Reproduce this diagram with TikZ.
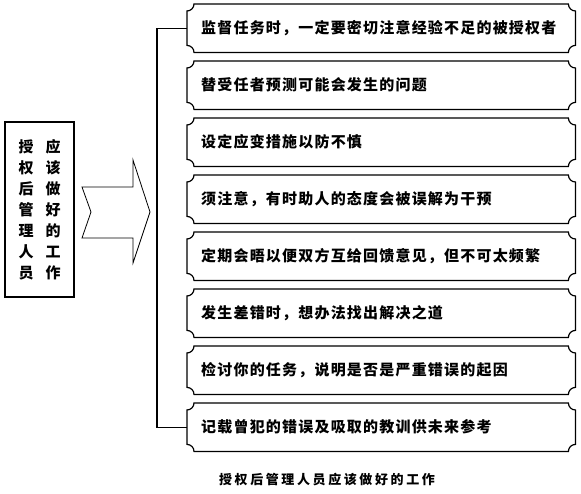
\documentclass[tikz,border=0pt]{standalone}
\usepackage{fontspec}
\newfontfamily\cjk{Noto Sans CJK SC}
\usetikzlibrary{backgrounds}
\tikzset{
  box/.style={anchor=north west, minimum width=388pt, minimum height=48pt,
    inner xsep=14pt, text width=360pt, align=left,
    font=\cjk\bfseries\fontsize{15}{18}\selectfont\addfontfeature{LetterSpace=8}},
}
\newcommand\plq[1]{%
  \begin{pgfonlayer}{background}
  \fill[black, shift={(1.6pt,-2.2pt)}]
    ([xshift=7pt]#1.north west) -- ([xshift=-7pt]#1.north east)
    arc[start angle=180, end angle=270, radius=7pt]
    -- ([yshift=7pt]#1.south east)
    arc[start angle=90, end angle=180, radius=7pt]
    -- ([xshift=7pt]#1.south west)
    arc[start angle=0, end angle=90, radius=7pt]
    -- ([yshift=-7pt]#1.north west)
    arc[start angle=270, end angle=360, radius=7pt] -- cycle;
  \filldraw[fill=white, line width=1.2pt]
    ([xshift=7pt]#1.north west) -- ([xshift=-7pt]#1.north east)
    arc[start angle=180, end angle=270, radius=7pt]
    -- ([yshift=7pt]#1.south east)
    arc[start angle=90, end angle=180, radius=7pt]
    -- ([xshift=7pt]#1.south west)
    arc[start angle=0, end angle=90, radius=7pt]
    -- ([yshift=-7pt]#1.north west)
    arc[start angle=270, end angle=360, radius=7pt] -- cycle;
  \end{pgfonlayer}}
\begin{document}
\begin{tikzpicture}[x=1pt, y=1pt]
\useasboundingbox (0,0) rectangle (581,-493);
% left box
\node[draw, line width=1.3pt, minimum width=69pt, minimum height=175pt,
      align=center, inner sep=0pt,
      font=\cjk\bfseries\fontsize{15}{21}\selectfont] (lb) at (39.5,-209.5)
  {授\hspace{12pt}应\\权\hspace{12pt}该\\后\hspace{12pt}做\\管\hspace{12pt}好\\理\hspace{12pt}的\\人\hspace{12pt}工\\员\hspace{12pt}作};
% big arrow
\draw[line width=0.8pt] (82,-187) -- (133,-187) -- (133,-160) -- (150,-212)
  -- (133,-263) -- (133,-238) -- (82,-238) -- (91,-212) -- cycle;
% boxes
\node[box] (b1) at (187,-4) {监督任务时，一定要密切注意经验不足的被授权者};
\node[box] (b2) at (187,-61) {替受任者预测可能会发生的问题};
\node[box] (b3) at (187,-118) {设定应变措施以防不慎};
\node[box] (b4) at (187,-175) {须注意，有时助人的态度会被误解为干预};
\node[box] (b5) at (187,-232) {定期会晤以便双方互给回馈意见，但不可太频繁};
\node[box] (b6) at (187,-289) {发生差错时，想办法找出解决之道};
\node[box] (b7) at (187,-346) {检讨你的任务，说明是否是严重错误的起因};
\node[box] (b8) at (187,-403) {记载曾犯的错误及吸取的教训供未来参考};
\foreach \b in {b1,b2,b3,b4,b5,b6,b7,b8} {\plq{\b}}
% bracket connector
\coordinate (bus) at (157,-220);
\draw[line width=1.1pt] (b1.west) -| (bus) |- (b8.west);
% caption
\node[font=\cjk\bfseries\fontsize{13}{15}\selectfont\addfontfeature{LetterSpace=20}] (cap) at (327,-480)
  {授权后管理人员应该做好的工作};
\end{tikzpicture}
\end{document}
